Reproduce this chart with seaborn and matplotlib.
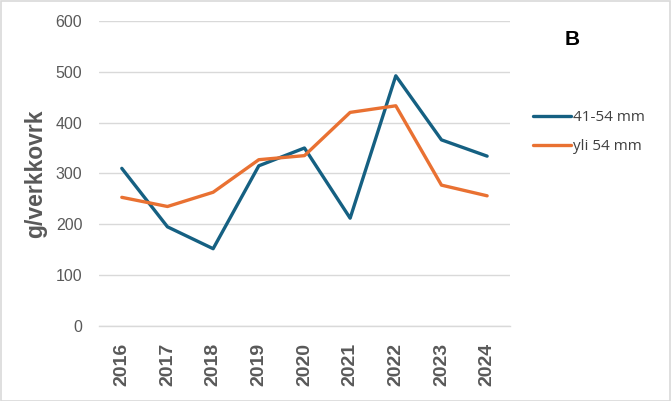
import pandas as pd
import matplotlib
matplotlib.use("Agg")
import matplotlib.pyplot as plt
import seaborn as sns
from matplotlib.patches import Rectangle

# Data
years = [2016, 2017, 2018, 2019, 2020, 2021, 2022, 2023, 2024]
size_41_54 = [310, 195, 152, 315, 350, 212, 492, 366, 334]
size_over_54 = [253, 235, 263, 327, 335, 420, 433, 277, 256]
series_names = ["41-54 mm", "yli 54 mm"]
colors = ["#156082", "#E97132"]

data = pd.DataFrame({
    "year": years * 2,
    "value": size_41_54 + size_over_54,
    "series": [series_names[0]] * len(years) + [series_names[1]] * len(years),
})

sns.set_theme(style="white")
plt.rcParams["font.family"] = ["Liberation Sans", "DejaVu Sans"]

fig = plt.figure(figsize=(6.71, 4.01), dpi=100)
ax = fig.add_axes([0.1475, 0.187, 0.6125, 0.761])

sns.lineplot(data=data, x="year", y="value", hue="series",
             palette=colors, linewidth=2.4, ax=ax)
for line in ax.lines:
    line.set_solid_capstyle("round")
    line.set_solid_joinstyle("round")

ax.set_xlim(years[0] - 0.5, years[-1] + 0.5)
ax.set_ylim(0, 600)
ax.set_yticks(range(0, 601, 100))
ax.set_xticks(years)
ax.set_xticklabels([str(y) for y in years], rotation=90,
                   fontsize=14, fontweight="bold", color="#595959")
ax.tick_params(axis="y", labelsize=11.5, labelcolor="#595959", length=0, pad=12)
ax.tick_params(axis="x", length=0, pad=12)
ax.yaxis.grid(True, color="#D9D9D9", linewidth=1)
ax.set_axisbelow(True)
for side in ["top", "right", "left"]:
    ax.spines[side].set_visible(False)
ax.spines["bottom"].set_color("#D9D9D9")
ax.spines["bottom"].set_linewidth(1)

ax.set_xlabel("")
ax.set_ylabel("g/verkkovrk", fontsize=16.5, fontweight="bold",
              color="#595959", labelpad=6)

# legend on the right
handles, labels = ax.get_legend_handles_labels()
ax.legend(handles, labels, loc="center left", bbox_to_anchor=(0.785, 0.67),
          bbox_transform=fig.transFigure, frameon=False,
          prop={"family": "Open Sans", "size": 11},
          labelcolor="#404040", handlelength=2.5, handletextpad=0.15,
          labelspacing=0.9, borderaxespad=0)

fig.text(0.852, 0.902, "B", fontsize=15, fontweight="bold",
         ha="center", va="center", color="black")

# chart border
fig.patches.append(Rectangle((0.001, 0.001), 0.998, 0.997,
                             transform=fig.transFigure, fill=False,
                             edgecolor="#D9D9D9", linewidth=1.2))

fig.savefig("out.png", dpi=100)
